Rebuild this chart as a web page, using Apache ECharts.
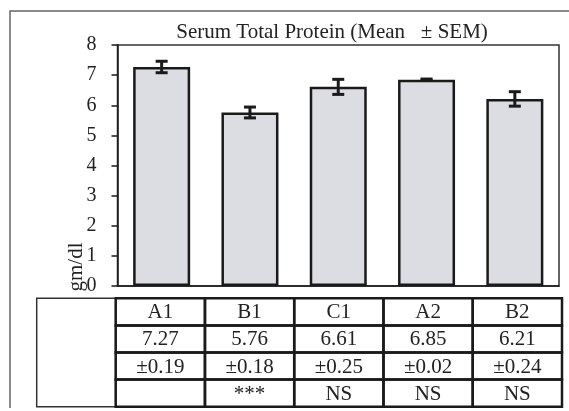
<!DOCTYPE html>
<html>
<head>
<meta charset="utf-8">
<script src="https://cdn.jsdelivr.net/npm/echarts@6/dist/echarts.min.js"></script>
<style>html,body{margin:0;padding:0;background:#fff;}#c{width:569px;height:411px;}</style>
</head>
<body>
<div id="c"></div>
<script>
const categories = ['A1', 'B1', 'C1', 'A2', 'B2'];
const means = [7.27, 5.76, 6.61, 6.85, 6.21];
const sems = [0.19, 0.18, 0.25, 0.02, 0.24];
const significance = ['', '***', 'NS', 'NS', 'NS'];
const yMin = 0, yMax = 8, yStep = 1;
const titleText = 'Serum Total Protein (Mean   \u00b1 SEM)';
const yName = 'gm/dl';

const FONT = '"Liberation Serif", "Times New Roman", serif';
const INK = '#1a1a1a';

const tableRows = [
  categories,
  means.map(v => v.toFixed(2)),
  sems.map(v => '\u00b1' + v.toFixed(2)),
  significance
];
const tableData = [];
tableRows.forEach((row, r) => row.forEach((t, c) => tableData.push([c, r, t])));
const blankStart = -0.885;

const chart = echarts.init(document.getElementById('c'), null, {renderer: 'canvas'});
chart.setOption({
  animation: false,
  backgroundColor: '#fff',
  title: {
    text: titleText, left: 327, top: 17, textAlign: 'center',
    textStyle: {fontFamily: FONT, fontSize: 21, fontWeight: 'normal', color: '#222'}
  },
  graphic: [
    {type: 'polyline', shape: {points: [[10, 408], [10, 11], [569, 11]]},
     style: {stroke: '#666', lineWidth: 1.5, fill: null}, silent: true},
    {type: 'text', x: 76, y: 267, rotation: Math.PI / 2,
     style: {text: yName, font: '21px ' + FONT, fill: '#222', textAlign: 'center', textVerticalAlign: 'middle'}}
  ],
  grid: [
    {left: 117.5, right: 10, top: 45, bottom: 125, show: true, borderColor: '#333', borderWidth: 1.5, backgroundColor: 'transparent'},
    {left: 36.7, right: 7, top: 298.3, bottom: 4.3}
  ],
  xAxis: [
    {type: 'category', data: categories, gridIndex: 0,
     axisLine: {lineStyle: {color: INK, width: 1.5}}, axisTick: {show: false}, axisLabel: {show: false}},
    {type: 'value', gridIndex: 1, min: blankStart, max: categories.length, show: false}
  ],
  yAxis: [
    {type: 'value', gridIndex: 0, min: yMin, max: yMax, interval: yStep,
     axisLine: {show: true, lineStyle: {color: INK, width: 1.5}},
     axisTick: {show: true, length: 6, lineStyle: {color: INK, width: 1.5}},
     axisLabel: {margin: 21, fontFamily: FONT, fontSize: 20, color: '#222'},
     splitLine: {show: false}},
    {type: 'value', gridIndex: 1, min: 0, max: tableRows.length, inverse: true, show: false}
  ],
  series: [
    {type: 'bar', xAxisIndex: 0, yAxisIndex: 0, data: means, barWidth: 57,
     itemStyle: {color: '#dcdde2', borderColor: INK, borderWidth: 2.5}},
    {type: 'custom', xAxisIndex: 0, yAxisIndex: 0,
     data: means.map((m, i) => [i, m - sems[i], m + sems[i]]),
     renderItem: function (params, api) {
       const lo = api.coord([api.value(0), api.value(1)]);
       const hi = api.coord([api.value(0), api.value(2)]);
       const w = 6;
       const st = {stroke: INK, lineWidth: 3};
       return {type: 'group', children: [
         {type: 'line', shape: {x1: lo[0], y1: lo[1], x2: hi[0], y2: hi[1]}, style: st},
         {type: 'line', shape: {x1: lo[0] - w, y1: lo[1], x2: lo[0] + w, y2: lo[1]}, style: st},
         {type: 'line', shape: {x1: hi[0] - w, y1: hi[1], x2: hi[0] + w, y2: hi[1]}, style: st}
       ]};
     }, z: 5},
    {type: 'custom', xAxisIndex: 1, yAxisIndex: 1,
     data: [[blankStart, 0, '', 0, tableRows.length]],
     renderItem: function (params, api) {
       const p0 = api.coord([api.value(0), api.value(3)]);
       const p1 = api.coord([0, api.value(4)]);
       return {type: 'rect', shape: {x: p0[0], y: p0[1], width: p1[0] - p0[0], height: p1[1] - p0[1]},
               style: {fill: '#fff', stroke: '#333', lineWidth: 1.5}};
     }, z: 1},
    {type: 'custom', xAxisIndex: 1, yAxisIndex: 1, data: tableData,
     renderItem: function (params, api) {
       const c = api.value(0), r = api.value(1);
       const p0 = api.coord([c, r]);
       const p1 = api.coord([c + 1, r + 1]);
       const t = tableData[params.dataIndex][2];
       return {type: 'group', children: [
         {type: 'rect', shape: {x: p0[0], y: p0[1], width: p1[0] - p0[0], height: p1[1] - p0[1]},
          style: {fill: 'transparent', stroke: INK, lineWidth: 2.5}},
         {type: 'text', style: {text: t, x: (p0[0] + p1[0]) / 2, y: (p0[1] + p1[1]) / 2 + 1,
          font: '21px ' + FONT, fill: '#222', textAlign: 'center', textVerticalAlign: 'middle'}}
       ]};
     }, z: 2}
  ]
});
</script>
</body>
</html>
